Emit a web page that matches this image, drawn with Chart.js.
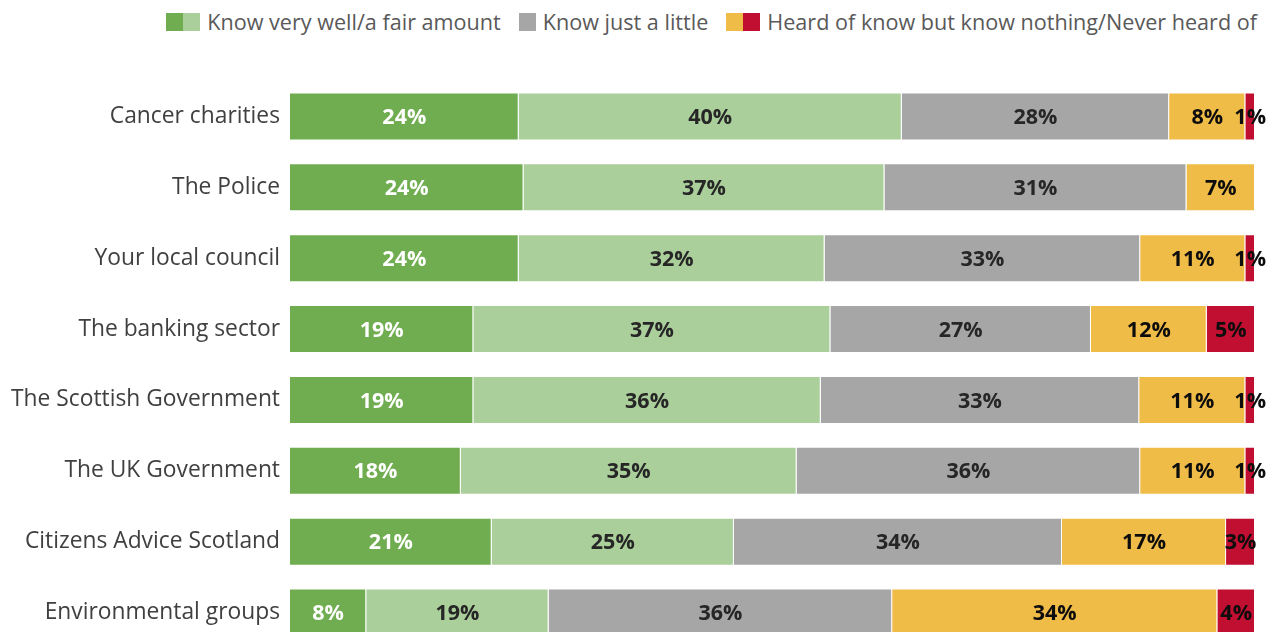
<!DOCTYPE html>
<html>
<head>
<meta charset="utf-8">
<script src="https://cdn.jsdelivr.net/npm/chart.js@4"></script>
<style>
  html, body { margin: 0; padding: 0; background: #fff; overflow: hidden; }
  body { width: 1271px; height: 632px; position: relative; font-family: "Open Sans", sans-serif; }
  .legend { position: absolute; top: 7px; right: 14px; display: flex; align-items: center; font-size: 21.6px; color: #595959; white-space: nowrap; }
  .legend .item { display: flex; align-items: center; margin-left: 18px; }
  .legend .sw { width: 17px; height: 18px; display: inline-block; }
  .legend .label { margin-left: 7px; }
  #awareChart { position: absolute; left: 0; top: 0; }
</style>
</head>
<body>
<div class="legend" id="legend"></div>
<canvas id="awareChart" width="1271" height="660"></canvas>
<script>
// Awareness of organisations, % of respondents
const categories = [
  "Cancer charities", "The Police", "Your local council", "The banking sector",
  "The Scottish Government", "The UK Government", "Citizens Advice Scotland", "Environmental groups"
];
const knowVeryWell = [23.7, 24.2, 23.7, 19.0, 19.0, 17.7, 20.9, 7.9];
const fairAmount = [39.7, 37.4, 31.7, 37.0, 36.0, 34.8, 25.1, 18.9];
const justALittle = [27.7, 31.3, 32.7, 27.0, 33.0, 35.6, 34.0, 35.6];
const knowNothing = [7.9, 7.1, 10.9, 12.0, 11.0, 10.9, 17.0, 33.7];
const neverHeard = [1.0, 0, 1.0, 5.0, 1.0, 1.0, 3.0, 3.9];

const colors = ["#70ad51", "#abcf9b", "#a6a6a6", "#f0bc48", "#c00f31"];
const labelColors = ["#ffffff", "#262626", "#262626", "#0d0d0d", "#0d0d0d"];

const legendItems = [
  { text: "Know very well/a fair amount", swatches: [0, 1] },
  { text: "Know just a little", swatches: [2] },
  { text: "Heard of know but know nothing/Never heard of", swatches: [3, 4] },
];

// legend with paired swatches
const legendEl = document.getElementById("legend");
legendItems.forEach((li) => {
  const item = document.createElement("div");
  item.className = "item";
  li.swatches.forEach((i) => {
    const s = document.createElement("span");
    s.className = "sw";
    s.style.background = colors[i];
    item.appendChild(s);
  });
  const t = document.createElement("span");
  t.className = "label";
  t.textContent = li.text;
  item.appendChild(t);
  legendEl.appendChild(item);
});

// percentage labels centred on each segment
const segmentLabels = {
  id: "segmentLabels",
  afterDatasetsDraw(chart) {
    const { ctx } = chart;
    ctx.save();
    ctx.font = "bold 21.5px 'Open Sans', sans-serif";
    ctx.textAlign = "center";
    ctx.textBaseline = "middle";
    chart.data.datasets.forEach((ds, di) => {
      const meta = chart.getDatasetMeta(di);
      meta.data.forEach((bar, i) => {
        const v = ds.data[i];
        if (!v) return;
        const cx = (bar.x + bar.base) / 2;
        ctx.fillStyle = labelColors[di];
        ctx.fillText(Math.round(v) + "%", cx, bar.y + 1.5);
      });
    });
    ctx.restore();
  },
};

const seriesNames = ["Know very well", "Know a fair amount", "Know just a little", "Heard of but know nothing", "Never heard of"];
const seriesData = [knowVeryWell, fairAmount, justALittle, knowNothing, neverHeard];

new Chart(document.getElementById("awareChart"), {
  type: "bar",
  data: {
    labels: categories,
    datasets: seriesData.map((d, i) => ({
      label: seriesNames[i],
      data: d,
      backgroundColor: colors[i],
      borderColor: "rgba(255,255,255,0.35)",
      borderWidth: 1,
      barPercentage: 0.677,
      categoryPercentage: 1,
    })),
  },
  options: {
    indexAxis: "y",
    responsive: false,
    animation: false,
    layout: { padding: { top: 81, bottom: 12, right: 16, left: 0 } },
    plugins: { legend: { display: false }, tooltip: { enabled: false } },
    scales: {
      x: { stacked: true, min: 0, max: 100, display: false, grid: { display: false } },
      y: {
        stacked: true,
        grid: { display: false, drawTicks: false },
        border: { display: false },
        afterFit: (s) => {
          s.width = 290;
          s.paddingTop = 0;
          s.paddingBottom = 0;
        },
        ticks: {
          padding: 10,
          color: "#404040",
          font: { family: "'Open Sans', sans-serif", size: 22.8 },
        },
      },
    },
  },
  plugins: [segmentLabels],
});
</script>
</body>
</html>
